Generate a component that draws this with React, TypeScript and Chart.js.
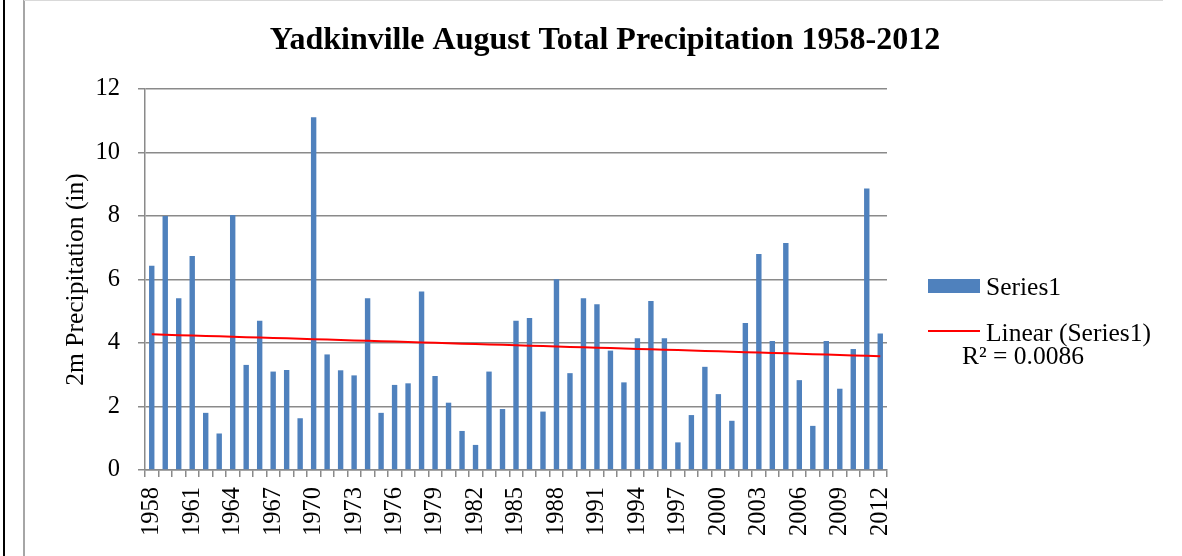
import React, { useEffect, useRef } from 'react';
import { Chart, registerables } from 'chart.js';

Chart.register(...registerables);

const years = [
  '1958', '1959', '1960', '1961', '1962', '1963', '1964', '1965', '1966', '1967',
  '1968', '1969', '1970', '1971', '1972', '1973', '1974', '1975', '1976', '1977',
  '1978', '1979', '1980', '1981', '1982', '1983', '1984', '1985', '1986', '1987',
  '1988', '1989', '1990', '1991', '1992', '1993', '1994', '1995', '1996', '1997',
  '1998', '1999', '2000', '2001', '2002', '2003', '2004', '2005', '2006', '2007',
  '2008', '2009', '2010', '2011', '2012',
];

const precipitation = [
  6.43, 8.0, 5.41, 6.74, 1.8, 1.15, 8.03, 3.31, 4.7, 3.1,
  3.15, 1.63, 11.11, 3.64, 3.14, 2.98, 5.41, 1.8, 2.68, 2.73,
  5.62, 2.96, 2.12, 1.23, 0.79, 3.1, 1.92, 4.7, 4.79, 1.84,
  6.01, 3.05, 5.41, 5.22, 3.76, 2.76, 4.15, 5.32, 4.15, 0.87,
  1.73, 3.25, 2.39, 1.55, 4.63, 6.8, 4.06, 7.15, 2.83, 1.39,
  4.06, 2.56, 3.81, 8.87, 4.3,
];

const shownYearLabels = [
  '1958', '1961', '1964', '1967', '1970', '1973', '1976', '1979', '1982', '1985',
  '1988', '1991', '1994', '1997', '2000', '2003', '2006', '2009', '2012',
];

const titleText = 'Yadkinville August Total Precipitation 1958-2012';
const yAxisTitle = '2m Precipitation (in)';
const seriesName = 'Series1';
const trendName = 'Linear (Series1)';
const rSquaredText = 'R² = 0.0086';

// Least-squares linear trendline, as Excel's "Linear" trendline
function linearTrend(values: number[]): number[] {
  const n = values.length;
  let sx = 0, sy = 0, sxx = 0, sxy = 0;
  values.forEach((v, i) => {
    const x = i + 1;
    sx += x; sy += v; sxx += x * x; sxy += x * v;
  });
  const slope = (n * sxy - sx * sy) / (n * sxx - sx * sx);
  const intercept = (sy - slope * sx) / n;
  return values.map((_, i) => intercept + slope * (i + 1));
}

const SERIF = '"Liberation Serif", "Times New Roman", serif';
const BAR_BLUE = '#4F81BD';
const GRID = '#8a8a8a';

const overlayPlugin = {
  id: 'overlayText',
  afterDraw(chart: any) {
    const ctx = chart.ctx;
    ctx.save();
    // Title
    ctx.fillStyle = '#000';
    ctx.font = `bold 32px ${SERIF}`;
    ctx.textAlign = 'center';
    ctx.textBaseline = 'alphabetic';
    ctx.fillText(titleText, 605, 49);

    // Legend
    ctx.font = `25.5px ${SERIF}`;
    ctx.textAlign = 'left';
    ctx.textBaseline = 'middle';
    ctx.fillStyle = BAR_BLUE;
    ctx.fillRect(928, 279, 52, 14);
    ctx.fillStyle = '#000';
    ctx.fillText(seriesName, 986, 288);

    ctx.strokeStyle = '#FF0000';
    ctx.lineWidth = 2;
    ctx.beginPath();
    ctx.moveTo(928, 331);
    ctx.lineTo(980, 331);
    ctx.stroke();
    ctx.fillText(trendName, 986, 334);
    ctx.fillText(rSquaredText, 962, 357);
    ctx.restore();
  },
};

export default function App() {
  const canvasRef = useRef<HTMLCanvasElement | null>(null);

  useEffect(() => {
    if (!canvasRef.current) return;
    const trend = linearTrend(precipitation);
    const chart = new Chart(canvasRef.current, {
      type: 'bar',
      data: {
        labels: years,
        datasets: [
          {
            type: 'bar',
            label: seriesName,
            data: precipitation,
            backgroundColor: BAR_BLUE,
            barPercentage: 0.4,
            categoryPercentage: 1,
            order: 2,
          },
          {
            type: 'line',
            label: trendName,
            data: trend,
            borderColor: '#FF0000',
            borderWidth: 2,
            pointRadius: 0,
            fill: false,
            order: 1,
          } as any,
        ],
      },
      options: {
        animation: false,
        responsive: false,
        maintainAspectRatio: false,
        layout: { padding: { left: 61, top: 89, right: 295, bottom: 0 } },
        plugins: {
          legend: { display: false },
          title: { display: false },
          tooltip: { enabled: false },
        },
        scales: {
          x: {
            offset: true,
            afterFit: (scale: any) => { scale.height = 86; },
            grid: {
              display: true,
              offset: true,
              drawOnChartArea: false,
              drawTicks: true,
              tickLength: 7,
              color: GRID,
              lineWidth: 1.5,
            },
            border: { display: true, color: GRID, width: 1.5 },
            ticks: {
              autoSkip: false,
              maxRotation: 90,
              minRotation: 90,
              padding: 10,
              color: '#000',
              font: { family: SERIF, size: 24.5 },
              callback: function (this: any, _v: any, i: number) {
                const lab = years[i];
                return shownYearLabels.includes(lab) ? lab : '';
              },
            },
          },
          y: {
            min: 0,
            max: 12,
            afterFit: (scale: any) => { scale.width = 84; },
            grid: {
              color: GRID,
              lineWidth: 1.5,
              drawTicks: true,
              tickLength: 7,
            },
            border: { display: true, color: GRID, width: 1.5 },
            ticks: {
              stepSize: 2,
              padding: 18,
              color: '#000',
              font: { family: SERIF, size: 24.5 },
            },
            title: {
              display: true,
              text: yAxisTitle,
              color: '#000',
              font: { family: SERIF, size: 25.5, lineHeight: 1.2 },
              padding: 0,
            },
          },
        },
      },
      plugins: [overlayPlugin],
    });
    return () => chart.destroy();
  }, []);

  return (
    <div style={{ position: 'fixed', left: 0, top: 0, width: 1182, height: 556, background: '#fff', overflow: 'hidden' }}>
      <canvas ref={canvasRef} width={1182} height={556} style={{ position: 'absolute', left: 0, top: 0, width: 1182, height: 556 }} />
      <div style={{ position: 'absolute', left: 3, top: 0, width: 2, height: 556, background: '#000' }} />
      <div style={{ position: 'absolute', left: 23, top: 0, width: 2, height: 556, background: '#a6a6a6' }} />
      <div style={{ position: 'absolute', left: 24, top: 0, width: 1139, height: 1, background: '#d9d9d9' }} />
    </div>
  );
}
